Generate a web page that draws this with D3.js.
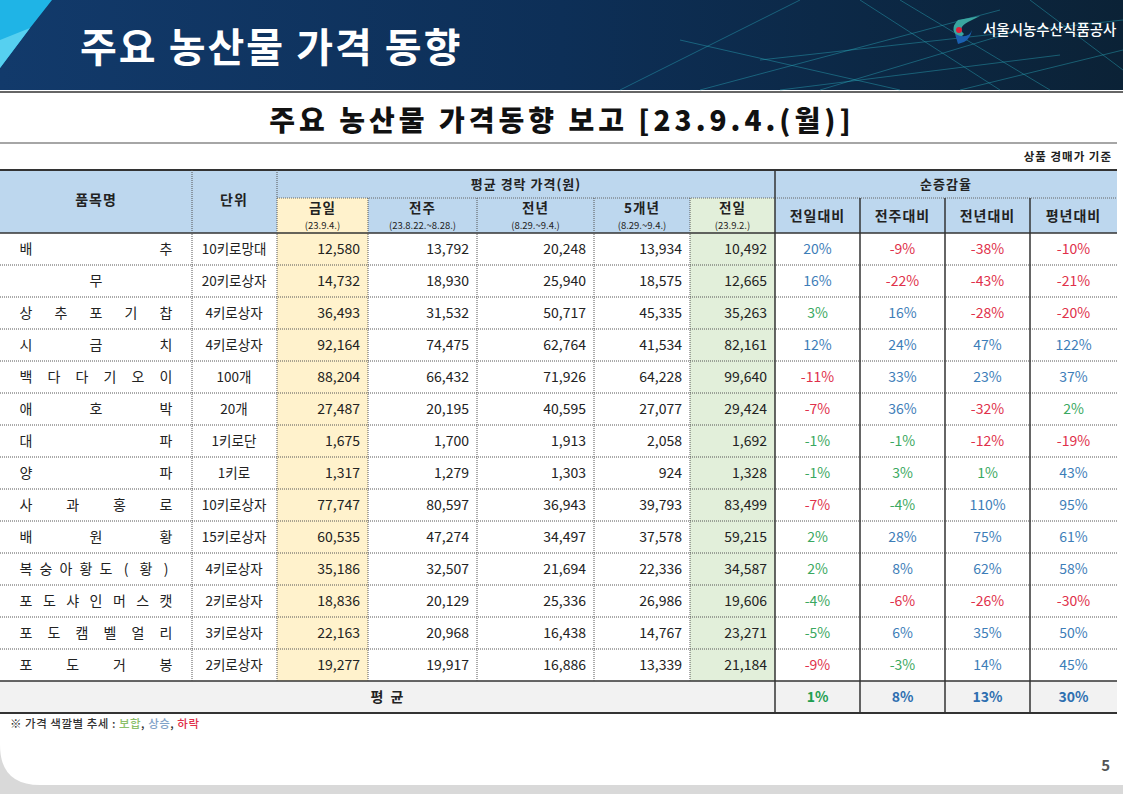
<!DOCTYPE html>
<html><head><meta charset="utf-8">
<script src="https://d3js.org/d3.v7.min.js"></script>
<style>body{margin:0;background:#fff}svg{display:block}text{font-family:"Noto Sans CJK KR","Noto Sans",sans-serif}</style>
</head><body><script>
const items=["배추","무","상추포기찹","시금치","백다다기오이","애호박","대파","양파","사과홍로","배원황","복숭아황도(황)","포도샤인머스캣","포도캠벨얼리","포도거봉"];
const units=["10키로망대","20키로상자","4키로상자","4키로상자","100개","20개","1키로단","1키로","10키로상자","15키로상자","4키로상자","2키로상자","3키로상자","2키로상자"];
const today=[12580,14732,36493,92164,88204,27487,1675,1317,77747,60535,35186,18836,22163,19277];
const lastWeek=[13792,18930,31532,74475,66432,20195,1700,1279,80597,47274,32507,20129,20968,19917];
const lastYear=[20248,25940,50717,62764,71926,40595,1913,1303,36943,34497,21694,25336,16438,16886];
const fiveYear=[13934,18575,45335,41534,64228,27077,2058,924,39793,37578,22336,26986,14767,13339];
const prevDay=[10492,12665,35263,82161,99640,29424,1692,1328,83499,59215,34587,19606,23271,21184];
const vsDay=[20,16,3,12,-11,-7,-1,-1,-7,2,2,-4,-5,-9];
const vsWeek=[-9,-22,16,24,33,36,-1,3,-4,28,8,-6,6,-3];
const vsYear=[-38,-43,-28,47,23,-32,-12,1,110,75,62,-26,35,14];
const vsNormal=[-10,-21,-20,122,37,2,-19,43,95,61,58,-30,50,45];
const avgRates=[1,8,13,30];
const priceHeads=[["금일","(23.9.4.)"],["전주","(23.8.22.~8.28.)"],["전년","(8.29.~9.4.)"],["5개년","(8.29.~9.4.)"],["전일","(23.9.2.)"]];
const rateHeads=["전일대비","전주대비","전년대비","평년대비"];

const W=1123,H=794;
const svg=d3.select("body").append("svg").attr("width",W).attr("height",H);
svg.append("rect").attr("width",W).attr("height",H).attr("fill","#d9d9d9");
svg.append("path").attr("d",`M0,90 H${W} V785 H40 Q0,785 0,745 Z`).attr("fill","#fff");
const defs=svg.append("defs");
const g1=defs.append("linearGradient").attr("id","hg").attr("x1",0).attr("x2",1);
g1.append("stop").attr("offset",0).attr("stop-color","#123a6b");
g1.append("stop").attr("offset",0.5).attr("stop-color","#0d2f57");
g1.append("stop").attr("offset",1).attr("stop-color","#0b2236");
svg.append("rect").attr("width",W).attr("height",90).attr("fill","url(#hg)");
const net=[[620,90,800,0],[700,90,1000,10],[760,60,1123,20],[820,90,1020,30],[900,0,1050,90],[960,90,1123,50],[860,0,1000,90],[1030,0,1123,70],[780,90,1060,55],[680,40,900,90]];
svg.append("g").selectAll("line").data(net).join("line").attr("x1",d=>d[0]).attr("y1",d=>d[1]).attr("x2",d=>d[2]).attr("y2",d=>d[3]).attr("stroke","#2aa6b8").attr("stroke-opacity",0.45).attr("stroke-width",1);
svg.append("path").attr("d","M0,0 H52 L30,28 L0,68 Z").attr("fill","#1fb4e6");
svg.append("path").attr("d","M0,40 L30,28 L0,68 Z").attr("fill","#56d0f0");
svg.append("text").attr("x",80).attr("y",62).attr("fill","#fff").attr("font-size",40).attr("font-weight",700).attr("letter-spacing",2).text("주요 농산물 가격 동향");
svg.append("path").attr("d","M958,20 Q948,30 960,38 L964,34 Q957,28 968,22 L980,16 Z").attr("fill","#3aa6a0");
svg.append("circle").attr("cx",959).attr("cy",30).attr("r",3).attr("fill","#e0203a");
svg.append("path").attr("d","M955,34 Q968,40 972,30 Q970,42 958,44 Z").attr("fill","#1b5fb0");
svg.append("text").attr("x",983).attr("y",35).attr("fill","#fff").attr("font-size",14.5).attr("font-weight",500).text("서울시농수산식품공사");
svg.append("line").attr("x1",0).attr("x2",W).attr("y1",92).attr("y2",92).attr("stroke","#333").attr("stroke-width",1.5);
svg.append("text").attr("x",562).attr("y",131).attr("text-anchor","middle").attr("font-size",28).attr("font-weight",900).attr("letter-spacing",4).attr("fill","#111").text("주요 농산물 가격동향 보고 [23.9.4.(월)]");
svg.append("line").attr("x1",0).attr("x2",1117).attr("y1",143).attr("y2",143).attr("stroke","#888").attr("stroke-width",1.5);
svg.append("text").attr("x",1112).attr("y",161).attr("text-anchor","end").attr("font-size",11.5).attr("font-weight",700).attr("letter-spacing",1).attr("fill","#222").text("상품 경매가 기준");

const cols=[0,192,277,368,477,594,690,775,860,945,1030,1117];
const yTop=170,yH1=198,yBody=233,rowH=32,n=items.length;
const y=d3.scaleBand().domain(d3.range(n)).range([yBody,yBody+n*rowH]);
const yAvg=yBody+n*rowH, yEnd=yAvg+32;
const T=svg.append("g");
const hb="#bdd7ee";
T.append("rect").attr("x",0).attr("y",yTop).attr("width",1117).attr("height",yBody-yTop).attr("fill",hb);
T.append("rect").attr("x",cols[2]).attr("y",yH1).attr("width",cols[3]-cols[2]).attr("height",yBody-yH1).attr("fill","#fff2cc");
T.append("rect").attr("x",cols[6]).attr("y",yH1).attr("width",cols[7]-cols[6]).attr("height",yBody-yH1).attr("fill","#e2efda");
T.append("rect").attr("x",cols[2]).attr("y",yBody).attr("width",cols[3]-cols[2]).attr("height",n*rowH).attr("fill","#fff2cc");
T.append("rect").attr("x",cols[6]).attr("y",yBody).attr("width",cols[7]-cols[6]).attr("height",n*rowH).attr("fill","#e2efda");
T.append("rect").attr("x",0).attr("y",yAvg).attr("width",1117).attr("height",yEnd-yAvg).attr("fill","#f2f2f2");
const hs=(x,yy,t,fs,fw,ls)=>T.append("text").attr("x",x).attr("y",yy).attr("text-anchor","middle").attr("font-size",fs).attr("font-weight",fw||700).attr("letter-spacing",ls||0).attr("fill","#222").text(t);
hs(96,205,"품목명",14,700,1);hs(234,205,"단위",14,700,1);
hs((cols[2]+cols[7])/2,189,"평균 경락 가격(원)",13,700,1);
hs((cols[7]+cols[11])/2,189,"순증감율",13,700,1);
priceHeads.forEach((p,i)=>{const cx=(cols[2+i]+cols[3+i])/2;hs(cx,213,p[0],13.5,700,1);hs(cx,229,p[1],9.5,400);});
rateHeads.forEach((p,i)=>hs((cols[7+i]+cols[8+i])/2,221,p,14,700,1));
const ln=(x1,y1,x2,y2,w,dash,c)=>T.append("line").attr("x1",x1).attr("y1",y1).attr("x2",x2).attr("y2",y2).attr("stroke",c||"#333").attr("stroke-width",w).attr("stroke-dasharray",dash||null);
ln(0,yTop,1117,yTop,2);ln(cols[2],yH1,1117,yH1,1,"1,1","#666");
ln(0,yBody,1117,yBody,1.5);
d3.range(1,n).forEach(i=>ln(0,y(i),1117,y(i),1,"1,1","#555"));
ln(0,yAvg,1117,yAvg,1.5);ln(0,yEnd,1117,yEnd,2);
[1,2].forEach(k=>ln(cols[k],yTop,cols[k],yAvg,1,"1,1","#555"));
[3,4,5,6].forEach(k=>ln(cols[k],yH1,cols[k],yAvg,1,"1,1","#555"));
ln(cols[7],yTop,cols[7],yEnd,1.5);
[8,9,10].forEach(k=>ln(cols[k],yH1,cols[k],yEnd,1.5));
const fmt=d3.format(",");
const priceCols=[today,lastWeek,lastYear,fiveYear,prevDay];
const rateCols=[vsDay,vsWeek,vsYear,vsNormal];
const col=v=>Math.abs(v)<=5?"#3aa860":(v>0?"#3d7db8":"#e0304a");
items.forEach((name,i)=>{
  const cy=y(i)+rowH/2+5;
  const chars=Array.from(name);
  if(chars.length===1){T.append("text").attr("x",96).attr("y",cy).attr("text-anchor","middle").attr("font-size",14).attr("fill","#222").text(name);}
  else{const xs=d3.scalePoint().domain(d3.range(chars.length)).range([26,166]);
    chars.forEach((c,j)=>T.append("text").attr("x",xs(j)).attr("y",cy).attr("text-anchor","middle").attr("font-size",14).attr("fill","#222").text(c));}
  T.append("text").attr("x",234).attr("y",cy).attr("text-anchor","middle").attr("font-size",13.5).attr("fill","#222").text(units[i]);
  priceCols.forEach((arr,k)=>T.append("text").attr("x",cols[3+k]-8).attr("y",cy).attr("text-anchor","end").attr("font-size",14).attr("fill","#222").text(fmt(arr[i])));
  rateCols.forEach((arr,k)=>T.append("text").attr("x",(cols[7+k]+cols[8+k])/2).attr("y",cy).attr("text-anchor","middle").attr("font-size",14).attr("fill",col(arr[i])).text(arr[i]+"%"));
});
hs(388,yAvg+21,"평 균",14,700,2);
avgRates.forEach((v,k)=>T.append("text").attr("x",(cols[7+k]+cols[8+k])/2).attr("y",yAvg+21).attr("text-anchor","middle").attr("font-size",14).attr("font-weight",700).attr("fill",k===0?"#1e9e50":"#2e6fb0").text(v+"%"));
const nt=svg.append("text").attr("x",10).attr("y",728).attr("font-size",11.5).attr("font-weight",500).attr("letter-spacing",0.5);
nt.append("tspan").attr("fill","#333").text("※ 가격 색깔별 추세 : ");
nt.append("tspan").attr("fill","#8cc06a").text("보합");
nt.append("tspan").attr("fill","#333").text(", ");
nt.append("tspan").attr("fill","#7fa2c8").text("상승");
nt.append("tspan").attr("fill","#333").text(", ");
nt.append("tspan").attr("fill","#e0304a").text("하락");
svg.append("text").attr("x",1110).attr("y",771).attr("text-anchor","end").attr("font-size",15).attr("font-weight",700).attr("fill","#555").text("5");
</script></body></html>
